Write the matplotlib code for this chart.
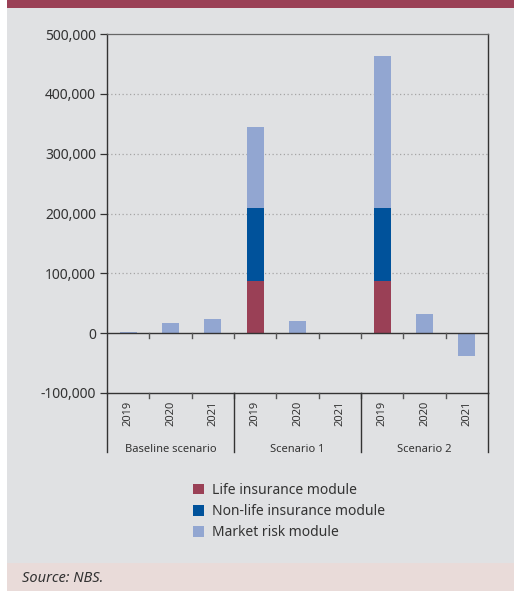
import matplotlib
matplotlib.use("Agg")
import matplotlib.pyplot as plt
from matplotlib.patches import Rectangle
from matplotlib.ticker import FuncFormatter
import matplotlib.transforms as mtransforms

plt.rcParams['font.family'] = ['Noto Sans', 'DejaVu Sans']

# Data
groups = ["Baseline scenario", "Scenario 1", "Scenario 2"]
years = ["2019", "2020", "2021"]
life = [0, 0, 0, 87000, 0, 0, 87000, 0, 0]
non_life = [0, 0, 0, 123000, 0, 0, 123000, 0, 0]
market = [2500, 17000, 23000, 135000, 20000, 0, 253000, 32000, -38000]
series_names = ["Life insurance module", "Non-life insurance module", "Market risk module"]
colors = ["#9a4056", "#00529b", "#92a6d1"]
y_ticks = [-100000, 0, 100000, 200000, 300000, 400000, 500000]

W, H = 515, 591
fig = plt.figure(figsize=(W / 100, H / 100), dpi=100)
fig.patch.set_facecolor("white")

def fx(px):
    return px / W

def fy(py):
    return 1 - py / H

def panel(x0, y0, x1, y1, color):
    # rectangle given in pixel coordinates measured from the top-left corner
    fig.patches.append(Rectangle((fx(x0), fy(y1)), fx(x1 - x0), (y1 - y0) / H,
                                 transform=fig.transFigure, facecolor=color,
                                 edgecolor="none", zorder=-10))

panel(7, 0, 514, 8, "#9a4056")
panel(7, 8, 514, 563, "#e0e1e3")
panel(7, 563, 514, 591, "#e9dbd9")
fig.text(fx(22), fy(578), "Source: NBS.", style="italic", fontsize=10.5, color="#333333",
         va="center", ha="left")

# Plot area
ax_top, ax_bot, ax_left, ax_right = 34, 393, 107, 488
ax = fig.add_axes([fx(ax_left), fy(ax_bot), fx(ax_right - ax_left), (ax_bot - ax_top) / H])
ax.set_facecolor("none")
ax.set_zorder(1)

x = list(range(len(market)))
base_nl = life
base_mk = [l + n for l, n in zip(life, non_life)]
width = 0.4
ax.bar(x, life, width, color=colors[0], label=series_names[0], zorder=3)
ax.bar(x, non_life, width, bottom=base_nl, color=colors[1], label=series_names[1], zorder=3)
ax.bar(x, market, width, bottom=[b if m >= 0 else 0 for b, m in zip(base_mk, market)],
       color=colors[2], label=series_names[2], zorder=3)

ax.set_xlim(-0.5, len(market) - 0.5)
ax.set_ylim(-100000, 500000)
ax.set_yticks(y_ticks)
ax.yaxis.set_major_formatter(FuncFormatter(lambda v, p: f"{int(v):,}"))
ax.tick_params(axis="y", direction="out", length=5, width=0.9, colors="#333333",
               labelsize=10, labelcolor="#333333", pad=3)
ax.set_xticks([])

for v in y_ticks[2:-1]:
    ax.axhline(v, color="#a5a5a5", lw=0.9, linestyle=(0, (1, 2)), zorder=1)

for s in ["left", "right", "bottom"]:
    ax.spines[s].set_color("#333333")
    ax.spines[s].set_linewidth(1.0)
ax.spines["top"].set_color("#666666")
ax.spines["top"].set_linewidth(0.9)
ax.spines["top"].set_linestyle((0, (1, 1)))

# Zero line with category ticks
ax.axhline(0, color="#333333", lw=1.0, zorder=4)
trans = mtransforms.blended_transform_factory(ax.transData, ax.transAxes)
tick_len = 5 / (ax_bot - ax_top)
zero_frac = 100000 / 600000
for b in [i + 0.5 for i in range(len(market) - 1)]:
    ax.plot([b, b], [zero_frac, zero_frac - tick_len], color="#555555", lw=1.0,
            transform=trans, clip_on=False, zorder=4)
    ax.plot([b, b], [0, -tick_len], color="#555555", lw=1.0,
            transform=trans, clip_on=False, zorder=4)

# Year labels and group labels
for i in x:
    ax.annotate(years[i % 3], xy=(i, 0), xycoords=trans, xytext=(0, -8),
                textcoords="offset pixels", rotation=90, ha="center", va="top",
                fontsize=8, color="#333333")
sep_len = 59 / (ax_bot - ax_top)
for g in range(len(groups) + 1):
    b = g * 3 - 0.5
    ax.plot([b, b], [0, -sep_len], color="#333333", lw=1.0, transform=trans,
            clip_on=False, zorder=4)
for g, name in enumerate(groups):
    ax.annotate(name, xy=(g * 3 + 1, 0), xycoords=trans, xytext=(0, -56),
                textcoords="offset pixels", ha="center", va="center",
                fontsize=8, color="#333333")

# Legend
handles, labels = ax.get_legend_handles_labels()
fig.legend(handles, labels, loc="upper left", bbox_to_anchor=(fx(193), fy(483)),
           frameon=False, fontsize=10, handlelength=0.8, handleheight=0.8,
           handletextpad=0.6, labelspacing=0.45, borderpad=0, borderaxespad=0,
           labelcolor="#333333")

fig.savefig("out.png", dpi=100, facecolor="white")
